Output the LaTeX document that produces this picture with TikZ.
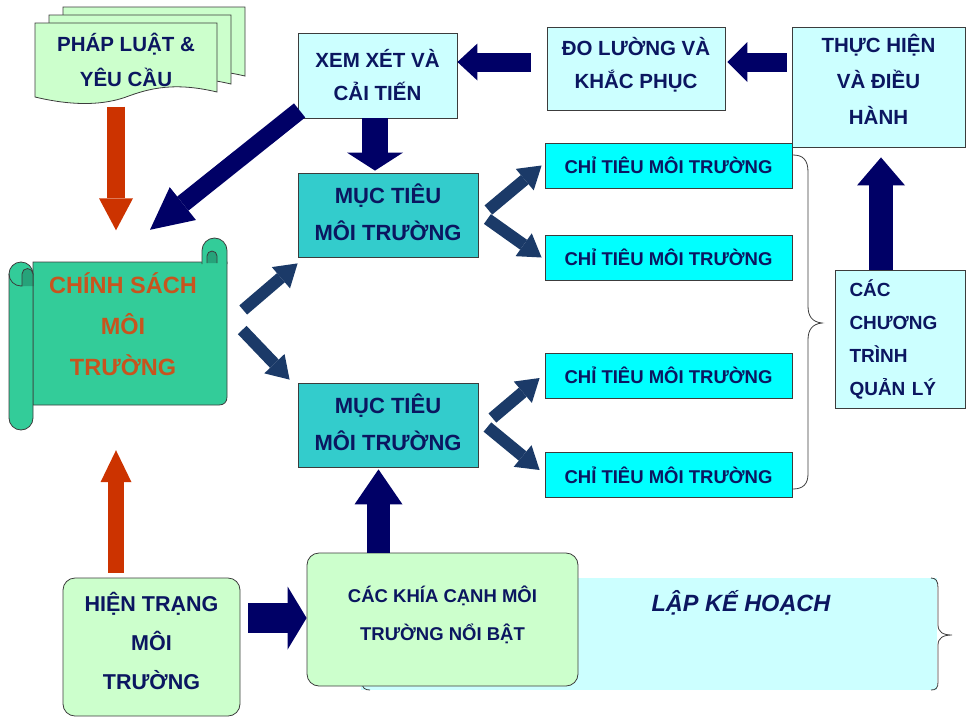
\documentclass[tikz,border=0pt]{standalone}
\usepackage{fontspec}
\setmainfont{Liberation Sans}
\usetikzlibrary{arrows.meta}
\definecolor{arrownavy}{HTML}{000066}
\definecolor{arrowslate}{HTML}{1B3A68}
\definecolor{arrowred}{HTML}{CC3300}
\definecolor{navytext}{HTML}{0B1660}
\definecolor{paleblue}{HTML}{CCFFFF}
\definecolor{tealbox}{HTML}{33CCCC}
\definecolor{cyanbox}{HTML}{00FFFF}
\definecolor{palegreen}{HTML}{CCFFCC}
\definecolor{scrollgreen}{HTML}{33CC99}
\definecolor{scrollshade}{HTML}{26A37A}
\definecolor{scrolltext}{HTML}{C8541E}
\definecolor{boxline}{HTML}{3C3C3C}
\begin{document}
\begin{tikzpicture}[x=1pt,y=-1pt,
  lightbox/.style={draw=boxline,line width=0.8pt,fill=paleblue,text=navytext,align=center,inner sep=0pt,font=\bfseries\fontsize{20.5}{33}\selectfont},
  goalbox/.style={draw=boxline,line width=0.8pt,fill=tealbox,text=navytext,align=center,inner sep=0pt,minimum width=180pt,minimum height=84pt,font=\bfseries\fontsize{22}{37}\selectfont},
  targetbox/.style={draw=boxline,line width=0.8pt,fill=cyanbox,text=navytext,inner sep=0pt,minimum width=247pt,minimum height=45pt,font=\bfseries\fontsize{18.5}{22}\selectfont},
  greenbox/.style={draw=boxline,line width=0.8pt,fill=palegreen,rounded corners=12pt,text=navytext,align=center,inner sep=0pt},
  scrollpart/.style={fill=scrollgreen,draw=boxline,line width=0.8pt},
  navyblock/.style n args={3}{draw=arrownavy,line width=#1,-{Triangle[width=#2,length=#3,line width=0pt]}},
  slateblock/.style={draw=arrowslate,line width=12pt,-{Triangle[width=28pt,length=22pt,line width=0pt]}},
  redblock/.style n args={3}{draw=arrowred,line width=#1,-{Triangle[width=#2,length=#3,line width=0pt]}}]
\useasboundingbox (0,0) rectangle (966,718);
% lap ke hoach
\node[fill=paleblue,minimum width=576pt,minimum height=112pt,inner sep=0pt] (kehoach) at (649,634) {};
\draw[boxline,line width=0.8pt] (931,578) .. controls (936,578) and (938,581) .. (938,588) -- (938,625) .. controls (938,632) and (943,635) .. (952,635) .. controls (943,635) and (938,638) .. (938,645) -- (938,682) .. controls (938,688) and (936,690) .. (931,690);
\draw[boxline,line width=0.8pt] (370,578) .. controls (365,578) and (362,581) .. (362,588) -- (362,625) .. controls (362,632) and (357,635) .. (350,635) .. controls (357,635) and (362,638) .. (362,645) -- (362,682) .. controls (362,688) and (365,690) .. (370,690);
\node[text=navytext,font=\bfseries\itshape\fontsize{23.5}{28}\selectfont] (khtitle) at (741,603) {LẬP KẾ HOẠCH};
% phap luat
\foreach \s in {28,14,0}
  \filldraw[fill=palegreen,draw=boxline,line width=0.8pt,shift={(\s,-0.57*\s)}] (35,23) -- (217,23) -- (217,92) .. controls (175,82) and (150,88) .. (126,97) .. controls (95,108) and (60,103) .. (35,97) -- cycle;
\node[text=navytext,align=center,inner sep=0pt,minimum width=182pt,minimum height=77pt,font=\bfseries\fontsize{20.5}{35}\selectfont] (phapluat) at (126,60) {PHÁP LUẬT \&\\YÊU CẦU};
% chinh sach
\filldraw[scrollpart] (33,262) -- (227,262) -- (227,397) .. controls (227,402) and (224,405) .. (219,405) -- (33,405) -- cycle;
\filldraw[scrollpart] (9,274) arc[start angle=180,end angle=360,radius=12] -- (33,418) arc[start angle=0,end angle=180,radius=12] -- cycle;
\draw[boxline,line width=0.8pt] (9,274) arc[start angle=180,end angle=0,radius=12];
\filldraw[fill=scrollshade,draw=boxline,line width=0.8pt] (22,286) -- (22,274) arc[start angle=180,end angle=360,radius=5.5] -- (33,286);
\filldraw[scrollpart] (202,264) -- (202,250.5) arc[start angle=180,end angle=360,radius=12.5] -- (227,264);
\filldraw[fill=scrollshade,draw=boxline,line width=0.8pt] (207,263) -- (207,256) arc[start angle=180,end angle=360,radius=5] -- (217,263);
\node[text=scrolltext,align=center,inner sep=0pt,minimum width=194pt,minimum height=143pt,font=\bfseries\fontsize{23.5}{41}\selectfont] (chinhsach) at (123,324) {CHÍNH SÁCH\\MÔI\\TRƯỜNG};
% hop
\node[lightbox,minimum width=159pt,minimum height=85pt] (xemxet) at (377.5,75.5) {XEM XÉT VÀ\\CẢI TIẾN};
\node[lightbox,minimum width=178pt,minimum height=83pt] (doluong) at (636,68.5) {ĐO LƯỜNG VÀ\\KHẮC PHỤC\\[-21pt]\mbox{}};
\node[lightbox,minimum width=173pt,minimum height=120pt,font=\bfseries\fontsize{20.5}{36}\selectfont] (thuchien) at (878.5,87) {THỰC HIỆN\\VÀ ĐIỀU\\HÀNH\\[-20pt]\mbox{}};
\node[goalbox] (muctieu1) at (388,215) {MỤC TIÊU\\MÔI TRƯỜNG\\[-32pt]\mbox{}};
\node[goalbox] (muctieu2) at (388,425) {MỤC TIÊU\\MÔI TRƯỜNG\\[-32pt]\mbox{}};
\foreach \i/\y in {1/165.5,2/257.5,3/375.5,4/475}
  \node[targetbox] (chitieu\i) at (668.5,\y) {CHỈ TIÊU MÔI TRƯỜNG};
\draw[boxline,line width=0.8pt] (793,155) .. controls (803,155) and (808,160) .. (808,172) -- (808,306) .. controls (808,316) and (812,322) .. (822,323) .. controls (812,324) and (808,330) .. (808,340) -- (808,474) .. controls (808,484) and (803,489) .. (793,489);
\node[lightbox,align=left,text width=102pt,inner xsep=14pt,minimum height=138pt,font=\bfseries\fontsize{19}{33}\selectfont] (chuongtrinh) at (900.5,339) {CÁC\\CHƯƠNG\\TRÌNH\\QUẢN LÝ};
\node[greenbox,minimum width=177pt,minimum height=138pt,font=\bfseries\fontsize{21.5}{39}\selectfont] (hientrang) at (151.5,647) {HIỆN TRẠNG\\MÔI\\TRƯỜNG\\[-27pt]\mbox{}};
\node[greenbox,minimum width=271pt,minimum height=133pt,font=\bfseries\fontsize{18.5}{38}\selectfont] (khiacanh) at (442.5,619.5) {CÁC KHÍA CẠNH MÔI\\TRƯỜNG NỔI BẬT\\[-26pt]\mbox{}};
% mui ten
\draw[redblock={18pt}{34pt}{32pt}] ([xshift=-10pt,yshift=-8pt]phapluat.south) -- ([xshift=-7pt,yshift=22pt]chinhsach.north);
\draw[redblock={16pt}{31pt}{32pt}] ([xshift=-35.5pt,yshift=5pt]hientrang.north) -- ([xshift=-7pt,yshift=-54.5pt]chinhsach.south);
\draw[navyblock={18pt}{42pt}{42pt}] ([xshift=2pt,yshift=8pt]xemxet.south west) -- ([xshift=27pt,yshift=22.5pt]chinhsach.north);
\draw[navyblock={26pt}{56pt}{18pt}] ([xshift=-2.5pt]xemxet.south) -- ([xshift=-13pt,yshift=2pt]muctieu1.north);
\draw[navyblock={19pt}{37pt}{20pt}] ([xshift=-16pt,yshift=6.5pt]doluong.west) -- ([yshift=13.5pt]xemxet.east);
\draw[navyblock={19pt}{40pt}{20pt}] ([xshift=-5pt,yshift=25pt]thuchien.west) -- ([xshift=2pt,yshift=6.5pt]doluong.east);
\draw[navyblock={24pt}{48pt}{28pt}] ([xshift=-19.5pt]chuongtrinh.north) -- ([xshift=2.5pt,yshift=-10pt]thuchien.south);
\draw[navyblock={23pt}{48pt}{35pt}] ([xshift=-64pt]khiacanh.north) -- ([xshift=-9.5pt,yshift=-2pt]muctieu2.south);
\draw[navyblock={30pt}{63pt}{19pt}] ([xshift=8pt,yshift=29pt]hientrang.east) -- ([yshift=1.5pt]khiacanh.west);
\draw[slateblock] ([xshift=23pt,yshift=14pt]chinhsach.east) -- ([yshift=-6pt]muctieu1.south west);
\draw[slateblock] ([xshift=22pt,yshift=-6pt]chinhsach.east) -- ([xshift=-8pt,yshift=3pt]muctieu2.north west);
\draw[slateblock] ([xshift=10pt,yshift=5pt]muctieu1.east) -- ([xshift=-3pt]chitieu1.west);
\draw[slateblock] ([xshift=9pt,yshift=-4pt]muctieu1.east) -- ([xshift=-3pt]chitieu2.west);
\draw[slateblock] ([xshift=14pt,yshift=7pt]muctieu2.east) -- ([xshift=-5pt,yshift=-2.5pt]chitieu3.west);
\draw[slateblock] ([xshift=9pt,yshift=-2pt]muctieu2.east) -- ([xshift=-5pt,yshift=5pt]chitieu4.west);
\end{tikzpicture}
\end{document}
